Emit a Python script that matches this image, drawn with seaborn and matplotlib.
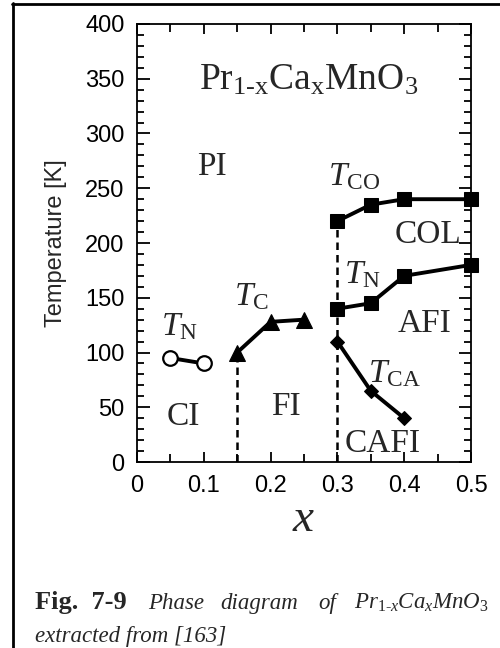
import matplotlib
matplotlib.use("Agg")
import matplotlib.pyplot as plt
from matplotlib.lines import Line2D
from matplotlib.ticker import MultipleLocator
import seaborn as sns

# ---- data ----
x_tn_ci = [0.05, 0.10]
t_tn_ci = [95, 90]
x_tc = [0.15, 0.20, 0.25]
t_tc = [100, 128, 130]
x_tco = [0.30, 0.35, 0.40, 0.50]
t_tco = [220, 235, 240, 240]
x_tn_afi = [0.30, 0.35, 0.40, 0.50]
t_tn_afi = [140, 145, 170, 180]
x_tca = [0.30, 0.35, 0.40]
t_tca = [110, 65, 40]
x_bound = [0.15, 0.30]
t_bound = [100, 220]
x_ticks = [0, 0.1, 0.2, 0.3, 0.4, 0.5]
x_tick_labels = ["0", "0.1", "0.2", "0.3", "0.4", "0.5"]
y_ticks = [0, 50, 100, 150, 200, 250, 300, 350, 400]

sns.set_style("ticks")
plt.rcParams["font.family"] = ["Liberation Sans", "DejaVu Sans"]
plt.rcParams["mathtext.fontset"] = "custom"
plt.rcParams["mathtext.rm"] = "Liberation Serif"
plt.rcParams["mathtext.it"] = "Liberation Serif:italic"
plt.rcParams["mathtext.bf"] = "Liberation Serif:bold"

fig = plt.figure(figsize=(5.0, 6.48), dpi=100)
ax = fig.add_axes([0.274, 0.287, 0.668, 0.676])

lw = 2.8
sns.lineplot(x=x_tn_ci, y=t_tn_ci, ax=ax, color="k", linewidth=lw, marker="o",
             markersize=10.5, markerfacecolor="white", markeredgecolor="k",
             markeredgewidth=1.6, clip_on=False)
sns.lineplot(x=x_tc, y=t_tc, ax=ax, color="k", linewidth=lw, marker="^",
             markersize=11, markeredgecolor="k", clip_on=False)
sns.lineplot(x=x_tco, y=t_tco, ax=ax, color="k", linewidth=lw, marker="s",
             markersize=10, markeredgecolor="k", clip_on=False)
sns.lineplot(x=x_tn_afi, y=t_tn_afi, ax=ax, color="k", linewidth=lw, marker="s",
             markersize=10, markeredgecolor="k", clip_on=False)
sns.lineplot(x=x_tca, y=t_tca, ax=ax, color="k", linewidth=lw, marker="D",
             markersize=7, markeredgecolor="k", clip_on=False)
ax.vlines(x_bound, 0, t_bound, colors="k", linestyles=(0, (3, 2)), linewidth=1.8)

ax.set_xlim(0, 0.5)
ax.set_ylim(0, 400)
ax.set_xticks(x_ticks)
ax.set_xticklabels(x_tick_labels)
ax.set_yticks(y_ticks)
ax.xaxis.set_minor_locator(MultipleLocator(0.05))
ax.yaxis.set_minor_locator(MultipleLocator(10))
ax.tick_params(which="both", direction="in", top=True, right=True, width=1.3,
               labelsize=17, colors="k")
ax.tick_params(axis="y", which="major", length=9, pad=9)
ax.tick_params(axis="y", which="minor", length=5)
ax.tick_params(axis="x", which="major", length=7, pad=9)
ax.tick_params(axis="x", which="minor", length=6)
for s in ax.spines.values():
    s.set_linewidth(1.3)
    s.set_color("k")

ax.set_ylabel("Temperature [K]", fontsize=17, labelpad=13)
ax.set_xlabel("$x$", fontsize=34, labelpad=0)

serif = ["Liberation Serif", "DejaVu Serif"]
lab = 24
ax.text(0.257, 340, r"$\mathrm{Pr}_{\mathrm{1‐x}}\mathrm{Ca}_{\mathrm{x}}\mathrm{MnO}_{3}$",
        fontsize=27, ha="center", va="baseline")
ax.text(0.112, 262, "PI", fontsize=lab, family=serif, ha="center", va="baseline")
ax.text(0.436, 200, "COL", fontsize=lab, family=serif, ha="center", va="baseline")
ax.text(0.431, 119, "AFI", fontsize=lab, family=serif, ha="center", va="baseline")
ax.text(0.069, 34, "CI", fontsize=lab, family=serif, ha="center", va="baseline")
ax.text(0.223, 43, "FI", fontsize=lab, family=serif, ha="center", va="baseline")
ax.text(0.368, 9, "CAFI", fontsize=lab, family=serif, ha="center", va="baseline")
ax.text(0.325, 253, r"$T_{\mathrm{CO}}$", fontsize=lab, ha="center", va="baseline")
ax.text(0.338, 163, r"$T_{\mathrm{N}}$", fontsize=lab, ha="center", va="baseline")
ax.text(0.172, 143, r"$T_{\mathrm{C}}$", fontsize=lab, ha="center", va="baseline")
ax.text(0.064, 116, r"$T_{\mathrm{N}}$", fontsize=lab, ha="center", va="baseline")
ax.text(0.386, 73, r"$T_{\mathrm{CA}}$", fontsize=lab, ha="center", va="baseline")

# caption
def fx(px):
    return px / 500.0

def fy(py):
    return 1 - py / 648.0

fig.text(fx(35), fy(609), "Fig.  7-9", fontsize=19, family=serif, weight="bold",
         ha="left", va="baseline")
fig.text(fx(148), fy(609), "Phase", fontsize=16.5, family=serif, style="italic",
         ha="left", va="baseline")
fig.text(fx(220), fy(609), "diagram", fontsize=16.5, family=serif, style="italic",
         ha="left", va="baseline")
fig.text(fx(318), fy(609), "of", fontsize=16.5, family=serif, style="italic",
         ha="left", va="baseline")
fig.text(fx(489), fy(609), r"$\mathit{Pr}_{\mathit{1‐x}}\mathit{Ca}_{\mathit{x}}\mathit{MnO}_{\mathit{3}}$",
         fontsize=16.5, ha="right", va="baseline")
fig.text(fx(35), fy(642), "extracted from [163]", fontsize=16.5, family=serif,
         style="italic", ha="left", va="baseline")

# frame (cut at right and bottom)
fig.add_artist(Line2D([fx(13), fx(13)], [fy(3), 0], color="k", linewidth=2.0,
                      transform=fig.transFigure))
fig.add_artist(Line2D([fx(12), 1], [fy(4), fy(4)], color="k", linewidth=2.0,
                      transform=fig.transFigure))

fig.savefig("out.png", dpi=100)
